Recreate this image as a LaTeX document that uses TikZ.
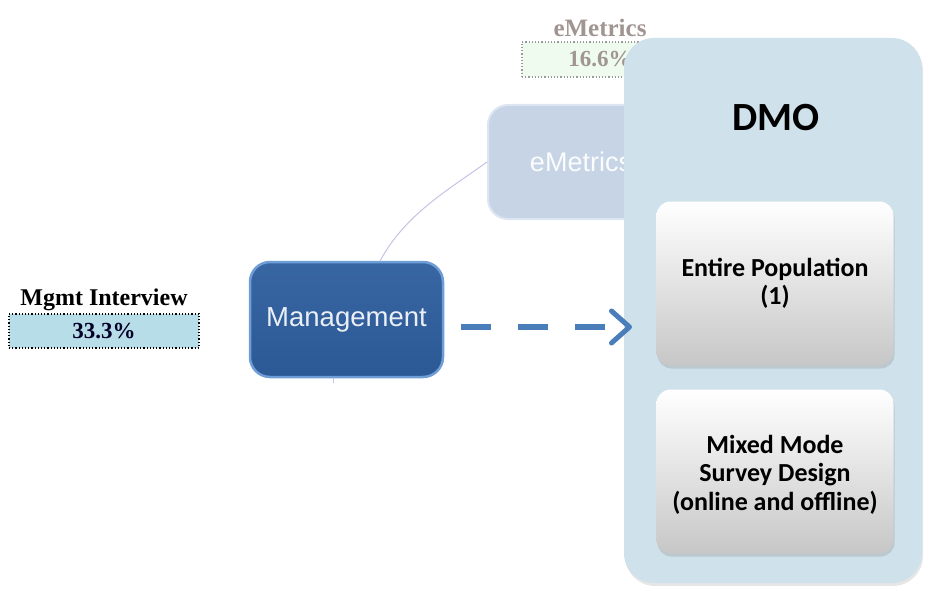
\documentclass[tikz,border=0pt]{standalone}
\usepackage{fontspec}
\setmainfont{Liberation Serif}
\newfontfamily\calib{Carlito}
\newfontfamily\arialf{Liberation Sans}
\usetikzlibrary{arrows.meta,shadows}
\definecolor{dmofill}{HTML}{CFE1EA}
\definecolor{mgmtfill}{HTML}{2E5E9E}
\definecolor{mgmtedge}{HTML}{6F9DD6}
\definecolor{emfill}{HTML}{C7D4E5}
\definecolor{emedge}{HTML}{DCE5F1}
\definecolor{arrowblue}{HTML}{4A7EBB}
\definecolor{pctblue}{HTML}{B7DDE8}
\definecolor{pctgreen}{HTML}{EEFBEE}
\definecolor{fadetext}{HTML}{A09590}
\definecolor{linkpurple}{HTML}{C6C2E4}
\tikzset{
  mapbox/.style={rounded corners=20pt, inner sep=0pt, align=center},
  pctbox/.style={draw, dotted, line width=1.2pt, inner sep=0pt, font=\bfseries\fontsize{23}{25}\selectfont},
  greybox/.style={rounded corners=14pt, inner sep=0pt, align=center,
    top color=white, bottom color=black!22, minimum width=237pt, minimum height=164pt,
    drop shadow={shadow xshift=1pt, shadow yshift=-3pt, opacity=0.25},
    font=\calib\bfseries\fontsize{26}{28.5}\selectfont},
  link/.style={draw=linkpurple, line width=1pt},
  flow/.style={draw=arrowblue, line width=6pt, dash pattern=on 30pt off 27pt,
    -{Straight Barb[length=18pt, width=32pt, line width=5pt, round]}}
}
\begin{document}
\begin{tikzpicture}[x=1pt,y=-1pt]
\useasboundingbox (0,0) rectangle (932,591);
% faded eMetrics parts
\node[font=\bfseries\fontsize{25}{27}\selectfont, text=fadetext] (emlabel) at (600,28) {eMetrics};
\node[pctbox, draw=black!40, fill=pctgreen, text=fadetext, minimum width=156pt, minimum height=35pt] (empct) at (600,59.5) {16.6\%};
\node[mapbox, fill=emfill, draw=emedge, line width=2pt, minimum width=186pt, minimum height=114pt,
  text=white!92!emfill, font=\arialf\fontsize{27}{29}\selectfont] (emetrics) at (581,162) {eMetrics};
% management
\node[font=\bfseries\fontsize{24}{26}\selectfont] (mglabel) at (104,300) {Mgmt Interview};
\node[pctbox, fill=pctblue, text=black!85!blue, minimum width=190pt, minimum height=34pt] (mgpct) at (104,331) {33.3\%};
\node[mapbox, top color=mgmtfill!95!white, bottom color=mgmtfill!95!black, draw=mgmtedge, line width=2.5pt, minimum width=193pt, minimum height=115pt,
  text=white!90!mgmtfill, font=\arialf\fontsize{27.5}{29}\selectfont] (mgmt) at (346.5,319.5) {Management};
\coordinate (stub) at (333,383);
\draw[link] (mgmt.south -| stub) -- (stub);
\draw[link] (380,261) .. controls (405,215) and (445,192) .. (emetrics.west);
% DMO container
\node[rounded corners=30pt, fill=dmofill, minimum width=298pt, minimum height=545pt, inner sep=0pt,
  drop shadow={shadow xshift=1pt, shadow yshift=-3pt, opacity=0.2}] (dmo) at (773,310.5) {};
\node[font=\calib\bfseries\fontsize{40}{42}\selectfont] (dmotitle) at (776,118) {DMO};
\node[greybox] (entire) at (775,283.5) {Entire Population\\(1)};
\node[greybox] (mixed) at (775,471.5) {};
\node[font=\calib\bfseries\fontsize{26}{28.5}\selectfont, align=center] (mixedtext) at (775,474.5) {Mixed Mode\\Survey Design\\(online and offline)};
% dashed arrow
\coordinate (tip) at (632,327);
\draw[flow] (mgmt.east |- tip) ++(17,0) -- (tip);
\end{tikzpicture}
\end{document}
